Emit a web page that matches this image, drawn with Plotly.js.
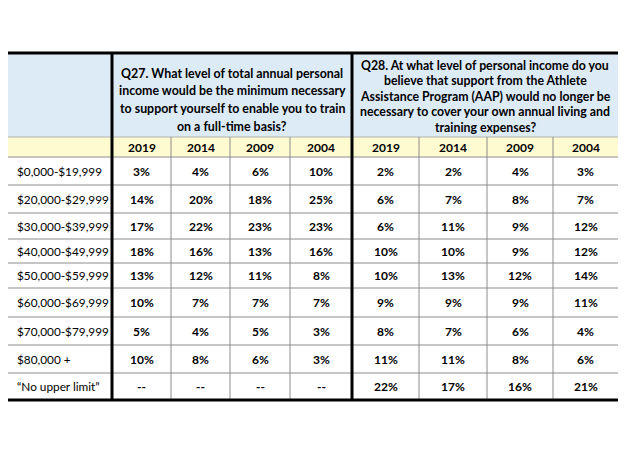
<!DOCTYPE html>
<html>
<head>
<meta charset="utf-8">
<script src="https://cdn.plot.ly/plotly-3.0.1.min.js"></script>
<style>html,body{margin:0;padding:0;background:#fff;overflow:hidden;}</style>
</head>
<body>
<div id="chart" style="width:624px;height:468px;"></div>
<script>
// ---- DATA ----
var categories = ["$0,000-$19,999","$20,000-$29,999","$30,000-$39,999","$40,000-$49,999","$50,000-$59,999","$60,000-$69,999","$70,000-$79,999","$80,000 +","\u201cNo upper limit\u201d"];
var years = ["2019","2014","2009","2004"];
var q27Title = ["Q27. What level of total annual personal","income would be the minimum necessary","to support yourself to enable you to train","on a full-time basis?"];
var q28Title = ["Q28. At what level of personal income do you","believe that support from the Athlete","Assistance Program (AAP) would no longer be","necessary to cover your own annual living and","training expenses?"];
var q27_2019 = [3,14,17,18,13,10,5,10,null];
var q27_2014 = [4,20,22,16,12,7,4,8,null];
var q27_2009 = [6,18,23,13,11,7,5,6,null];
var q27_2004 = [10,25,23,16,8,7,3,3,null];
var q28_2019 = [2,6,6,10,10,9,8,11,22];
var q28_2014 = [2,7,11,10,13,9,7,11,17];
var q28_2009 = [4,8,9,9,12,9,6,8,16];
var q28_2004 = [3,7,12,12,14,11,4,6,21];

// ---- LAYOUT GEOMETRY (pixel space of the axes) ----
var colEdges = [8,112,171,230,290,352,419,487,553,618];
var headTop = 53, headBottom = 137, yearBottom = 157;
var rowEdges = [157,185,213,239,263,288,317,345,373,400];
var FONT = "Lato, 'Open Sans', sans-serif";
var BLUE = "#DDEBF7", YELLOW = "#FFFBD0", GRID = "#8c8c8c";

var seriesCols = [q27_2019,q27_2014,q27_2009,q27_2004,q28_2019,q28_2014,q28_2009,q28_2004];
var shapes = [], ann = [];

function rect(x0,y0,x1,y1,fill){shapes.push({type:"rect",xref:"x",yref:"y",x0:x0,x1:x1,y0:y0,y1:y1,fillcolor:fill,line:{width:0},layer:"below"});}
function line(x0,y0,x1,y1,w,c){shapes.push({type:"line",xref:"x",yref:"y",x0:x0,x1:x1,y0:y0,y1:y1,line:{width:w,color:c}});}
function text(x,y,t,opts){ann.push(Object.assign({xref:"x",yref:"y",x:x,y:y,text:t,showarrow:false,xanchor:"center",yanchor:"middle",font:{family:FONT,size:12,color:"#000"}},opts||{}));}

var L = colEdges[0], R = colEdges[colEdges.length-1];
rect(L,headTop,R,headBottom,BLUE);
rect(L,headBottom,R,yearBottom,YELLOW);

// header titles
var bold = function(sz){return {family:FONT,size:sz,color:"#000",weight:"bold"};};
var q27mid = (colEdges[1]+colEdges[5])/2, q28mid = (colEdges[5]+colEdges[9])/2;
q27Title.forEach(function(t,i){text(q27mid,73+i*17.7,t,{font:bold(12.4)});});
q28Title.forEach(function(t,i){text(q28mid,65+i*15.5,t,{font:bold(12.3)});});

// years
for (var c=0;c<8;c++){
  var xm=(colEdges[c+1]+colEdges[c+2])/2;
  text(xm,(headBottom+yearBottom)/2,years[c%4],{font:bold(12)});
}
// rows
categories.forEach(function(cat,r){
  var ym=(rowEdges[r]+rowEdges[r+1])/2;
  text(colEdges[0]+7,ym,cat,{xanchor:"left",font:{family:FONT,size:11.8,color:"#000"}});
  for (var c=0;c<8;c++){
    var v=seriesCols[c][r];
    var xm=(colEdges[c+1]+colEdges[c+2])/2;
    text(xm,ym,v===null?"--":v+"%",{font:bold(12)});
  }
});

// grid lines
line(L,headBottom,R,headBottom,1,"#b0b0b0");
for (var r=0;r<rowEdges.length-1;r++) line(L,rowEdges[r],R,rowEdges[r],1,GRID);
for (var c=2;c<colEdges.length-1;c++){ if(c!==5) line(colEdges[c],headBottom,colEdges[c],rowEdges[rowEdges.length-1],1,GRID); }
line(colEdges[1],headTop,colEdges[1],rowEdges[rowEdges.length-1],3,"#000");
line(colEdges[5],headTop,colEdges[5],rowEdges[rowEdges.length-1],3,"#000");
line(L,headTop,R,headTop,3,"#000");
line(L,rowEdges[rowEdges.length-1],R,rowEdges[rowEdges.length-1],3,"#000");

var layout = {
  width:624,height:468,margin:{l:0,r:0,t:0,b:0},
  paper_bgcolor:"#fff",plot_bgcolor:"#fff",
  xaxis:{range:[0,624],visible:false,fixedrange:true},
  yaxis:{range:[468,0],visible:false,fixedrange:true},
  shapes:shapes,annotations:ann,showlegend:false
};
Plotly.newPlot("chart",[{type:"scatter",x:[],y:[],mode:"markers"}],layout,{displayModeBar:false,staticPlot:true});
</script>
</body>
</html>
